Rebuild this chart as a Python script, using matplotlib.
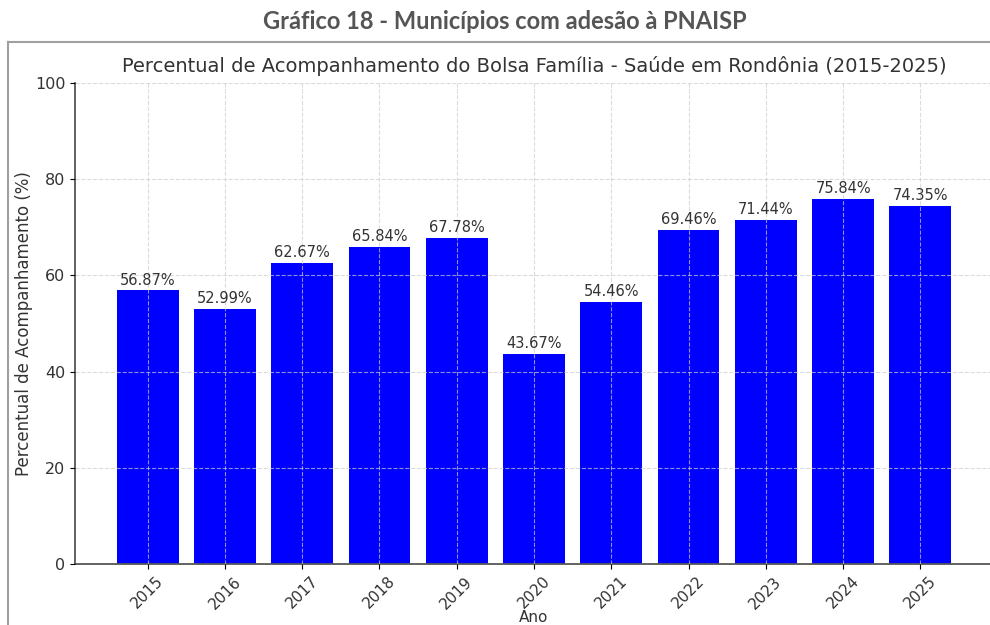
import matplotlib.pyplot as plt
from matplotlib.lines import Line2D

anos = ['2015', '2016', '2017', '2018', '2019', '2020', '2021', '2022', '2023', '2024', '2025']
percentuais = [56.87, 52.99, 62.67, 65.84, 67.78, 43.67, 54.46, 69.46, 71.44, 75.84, 74.35]

if __name__ == '__main__':
    fig = plt.figure(figsize=(9.9, 6.25), dpi=100)

    # cabeçalho do documento, fora do gráfico
    fig.text(0.51, 0.966, 'Gráfico 18 - Municípios com adesão à PNAISP', ha='center', va='center',
             fontsize=17, fontweight='bold', family='Lato', color='#555555')

    # moldura da imagem embutida
    fig.add_artist(Line2D([8 / 990, 1], [1 - 42 / 625, 1 - 42 / 625], color='#a0a0a0', linewidth=1.5))
    fig.add_artist(Line2D([8 / 990, 8 / 990], [0, 1 - 42 / 625], color='#a0a0a0', linewidth=1.5))

    ax = fig.add_axes([75 / 990, 61 / 625, 918 / 990, 481 / 625])
    x = range(len(anos))
    bars = ax.bar(x, percentuais, width=0.8, color='#0000ff', zorder=1)

    for b, v in zip(bars, percentuais):
        ax.text(b.get_x() + b.get_width() / 2, v + 0.6, f'{v:.2f}%', ha='center', va='bottom',
                fontsize=10.5, color='#333333')

    ax.set_xlim(-0.94, 10.94)
    ax.set_ylim(0, 100)
    ax.set_xticks(list(x))
    ax.set_xticklabels(anos, rotation=45, fontsize=11, color='#333333')
    ax.set_yticks([0, 20, 40, 60, 80, 100])
    ax.tick_params(axis='y', labelsize=11.5, labelcolor='#333333')

    ax.grid(True, linestyle='--', color='#cccccc', linewidth=0.8, alpha=0.7, zorder=2)
    ax.set_axisbelow(False)

    for s in ['top', 'right']:
        ax.spines[s].set_visible(False)
    for s in ['left', 'bottom']:
        ax.spines[s].set_color('#555555')
        ax.spines[s].set_linewidth(1.3)

    ax.set_title('Percentual de Acompanhamento do Bolsa Família - Saúde em Rondônia (2015-2025)',
                 fontsize=14, color='#333333', pad=8)
    ax.set_ylabel('Percentual de Acompanhamento (%)', fontsize=12, color='#333333', labelpad=1)
    ax.set_xlabel('Ano', fontsize=11, color='#333333', labelpad=-1)

    plt.savefig('out.png', dpi=100)
